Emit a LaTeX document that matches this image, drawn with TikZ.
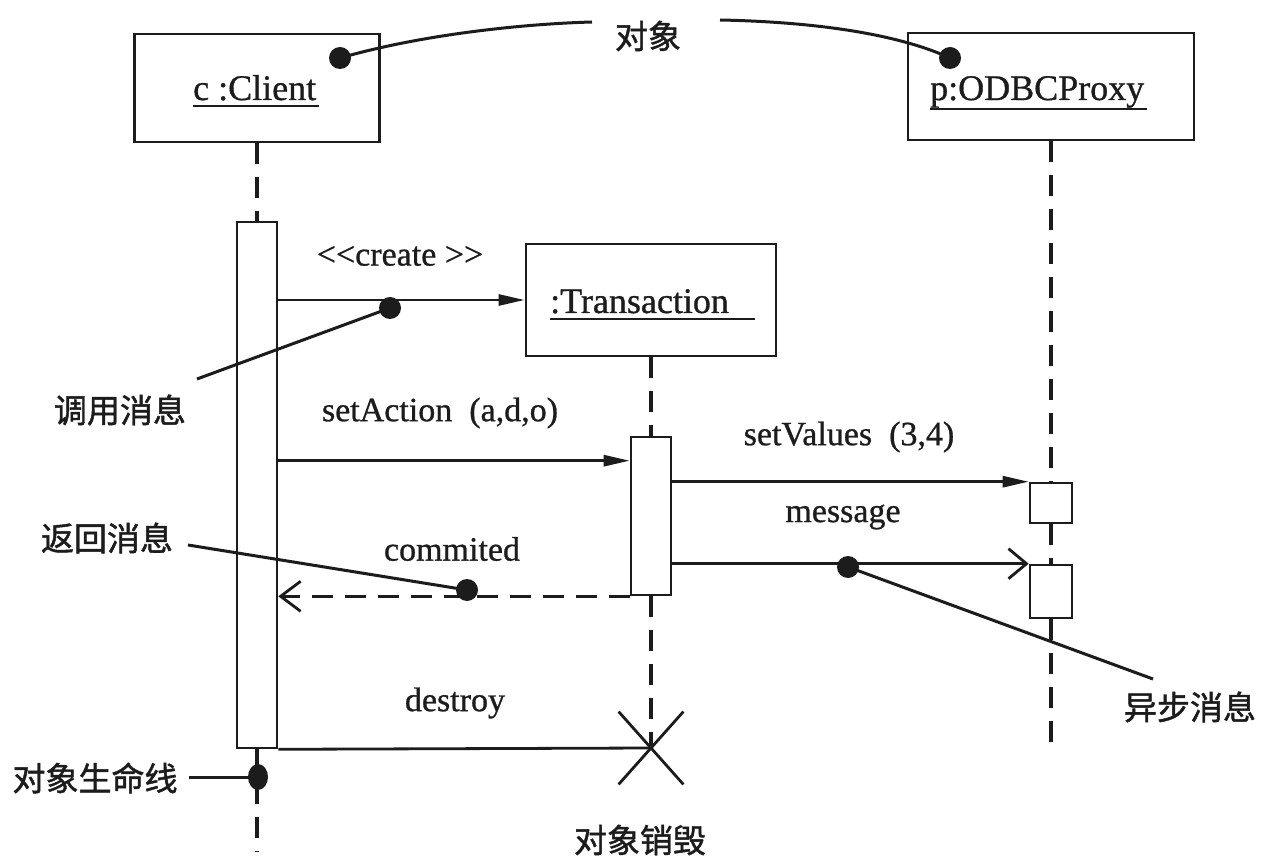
\documentclass[tikz,border=0pt]{standalone}
\usepackage{fontspec}
\setmainfont{Liberation Serif}[UprightFeatures={FakeBold=0.8}]
\newfontfamily\cjk{Noto Sans CJK SC}[UprightFeatures={FakeBold=1.4}]
\usepackage{tikz}
\usetikzlibrary{positioning,arrows.meta,shapes.misc,shapes.geometric}
\definecolor{SeqInk}{HTML}{1C1C1C}

\begin{document}
\begin{tikzpicture}[x=1pt,y=-1pt,>={Triangle[length=26pt,width=11pt]}]
  \tikzstyle{objbox}=[draw=SeqInk,line width=2.8pt,fill=white,inner sep=0]
  \tikzstyle{actbox}=[draw=SeqInk,line width=2.6pt,fill=white,inner sep=0,
    minimum width=40pt]
  \tikzstyle{objname}=[anchor=base west,inner sep=0,text=SeqInk,
    font=\fontsize{36}{40}\selectfont]
  \tikzstyle{msg}=[inner sep=0,text=SeqInk,font=\fontsize{34}{38}\selectfont]
  \tikzstyle{note}=[inner sep=0,text=SeqInk,font=\cjk\fontsize{33}{36}\selectfont]
  \tikzstyle{pin}=[circle,fill=SeqInk,inner sep=0,minimum size=22pt]
  \tikzstyle{uline}=[draw=SeqInk,line width=2.6pt]
  \tikzstyle{lifeline}=[draw=SeqInk,line width=3.2pt,dash pattern=on 21pt off 13pt]
  \tikzstyle{syncmsg}=[->,draw=SeqInk,line width=2.8pt]
  \tikzstyle{asyncmsg}=[-{Straight Barb[length=18pt,width=30pt]},draw=SeqInk,line width=2.8pt]
  \tikzstyle{retmsg}=[-{Straight Barb[length=20pt,width=30pt]},draw=SeqInk,
    line width=2.8pt,dash pattern=on 21pt off 12pt]
  \tikzstyle{noteline}=[draw=SeqInk,line width=3pt]
  \useasboundingbox[fill=white] (0,0) rectangle (1272,866);

  % objects
  \node[objbox,minimum width=245pt,minimum height=108pt] (client) at (257,88) {};
  \node[objbox,minimum width=286pt,minimum height=107pt] (proxy) at (1051,86.5) {};
  \node[objbox,minimum width=250pt,minimum height=112pt] (trans) at (651,300) {};
  \node[objname] (clientname) at (193,100) {c :Client};
  \node[objname] (proxyname) at (930,100) {p:ODBCProxy};
  \node[objname] (transname) at (550,313) {:Transaction};
  \draw[uline] ([yshift=-6pt]clientname.base west) -- ([yshift=-6pt,xshift=3pt]clientname.base east);
  \draw[uline] ([yshift=-9pt]proxyname.base west) -- ([yshift=-9pt,xshift=3pt]proxyname.base east);
  \draw[uline] ([yshift=-6pt]transname.base west) -- ([yshift=-6pt,xshift=26pt]transname.base east);

  % activations
  \node[actbox,minimum height=526pt] (clientact) at (257,485) {};
  \node[actbox,minimum height=158pt] (transact) at (651,516) {};
  \node[actbox,minimum width=42pt,minimum height=40pt] (pact1) at (1051,503) {};
  \node[actbox,minimum width=42pt,minimum height=53pt] (pact2) at (1051,591.5) {};
  \node[cross out,draw=SeqInk,line width=2.8pt,minimum width=62pt,minimum height=70pt] (kill) at (651,748) {};
  \coordinate (clientend) at (257,852);
  \coordinate (proxyend) at (1051,748);

  % lifelines
  \draw[lifeline] (client.south) -- (clientact.north);
  \draw[lifeline] (clientact.south) -- (clientend);
  \draw[lifeline] (trans.south) -- (transact.north);
  \draw[lifeline] (transact.south) -- (kill.center);
  \draw[lifeline] (proxy.south) -- (pact1.north);
  \draw[lifeline] (pact1.south) -- (pact2.north);
  \draw[lifeline] (pact2.south) -- (proxyend);

  % messages
  \coordinate (setA) at ([yshift=-25pt]transact.north west);
  \draw[syncmsg] (clientact.east |- trans.west) -- (trans.west);
  \draw[syncmsg] (clientact.east |- setA) -- (setA);
  \draw[syncmsg] (transact.east |- pact1.north) -- (pact1.north west);
  \draw[asyncmsg] (transact.east |- pact2.north) -- (pact2.north west);
  \draw[retmsg] (transact.south west) -- (clientact.east |- transact.south);
  \draw[draw=SeqInk,line width=2.8pt] (clientact.south east) -- (kill.center);

  \node[msg] (createlbl) at (400,256) {<\kern0pt<create >\kern0pt>};
  \node[msg] (setactionlbl) at (440,413) {setAction~~(a,d,o)};
  \node[msg] (setvalueslbl) at (849,437) {setValues~~(3,4)};
  \node[msg] (messagelbl) at (843,517) {message};
  \node[msg] (commitlbl) at (452,549) {commited};
  \node[msg] (destroylbl) at (455,703) {destroy};

  % notes
  \node[note] (objlbl) at (648,36) {对象};
  \node[note] (calllbl) at (120,410) {调用消息};
  \node[note] (retlbl) at (107,538) {返回消息};
  \node[note] (asynclbl) at (1190,707) {异步消息};
  \node[note] (lifelbl) at (95,778) {对象生命线};
  \node[note] (killlbl) at (640,840) {对象销毁};
  \coordinate (objL) at (592,22);
  \coordinate (objR) at (720,20);
  \coordinate (callend) at (197,379);
  \coordinate (retend) at (188,545);
  \coordinate (asyncend) at (1153,679);
  \coordinate (lifeend) at (189,777);

  \node[pin] (objdotL) at (340,58) {};
  \node[pin] (objdotR) at (950,58) {};
  \node[pin] (calldot) at (390,308) {};
  \node[pin] (retdot) at (467,590) {};
  \node[pin] (asyncdot) at (848,567) {};
  \node[pin,ellipse,minimum width=20pt,minimum height=26pt] (lifedot) at (258,777) {};

  \draw[noteline] (objdotL.center) .. controls (420,35) and (520,24) .. (objL);
  \draw[noteline] (objR) .. controls (820,22) and (900,35) .. (objdotR.center);
  \draw[noteline] (calldot.center) -- (callend);
  \draw[noteline] (retdot.center) -- (retend);
  \draw[noteline] (asyncdot.center) -- (asyncend);
  \draw[noteline] (lifedot.center) -- (lifeend);
\end{tikzpicture}
\end{document}
